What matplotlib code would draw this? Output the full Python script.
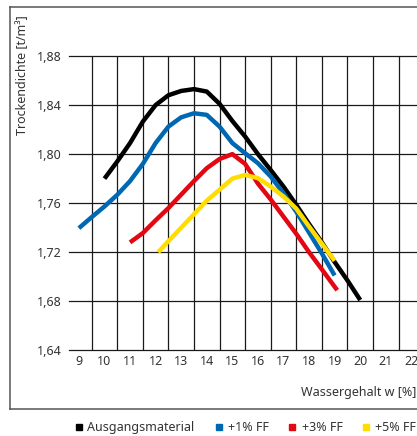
import matplotlib
matplotlib.use("Agg")
import matplotlib.pyplot as plt
from matplotlib.lines import Line2D
from matplotlib.patches import Rectangle

plt.rcParams['font.family'] = ['Noto Sans', 'DejaVu Sans']

# ---- data ----
series_names = ["Ausgangsmaterial", "+1% FF", "+3% FF", "+5% FF"]
series_colors = ["#000000", "#0068b3", "#e30613", "#ffdd00"]

x_black = [10.0, 10.5, 11.0, 11.5, 12.0, 12.5, 13.0, 13.5, 14.0, 14.5, 15.0, 15.5,
           16.0, 16.5, 17.0, 17.5, 18.0, 18.5, 19.0, 19.5, 20.0]
y_black = [1.780, 1.794, 1.809, 1.8265, 1.840, 1.848, 1.8515, 1.853, 1.851, 1.841, 1.827, 1.8143,
           1.800, 1.787, 1.7735, 1.7586, 1.743, 1.728, 1.712, 1.697, 1.681]

x_blue = [9.0, 9.5, 10.0, 10.5, 11.0, 11.5, 12.0, 12.5, 13.0, 13.5, 14.0, 14.5, 15.0,
          15.5, 16.0, 16.5, 17.0, 17.5, 18.0, 18.5, 19.0]
y_blue = [1.7396, 1.7486, 1.7573, 1.7668, 1.778, 1.792, 1.809, 1.8224, 1.830, 1.8333, 1.832,
          1.8224, 1.809, 1.8007, 1.7926, 1.7817, 1.768, 1.753, 1.736, 1.719, 1.701]

x_red = [11.0, 11.5, 12.0, 12.5, 13.0, 13.5, 14.0, 14.5, 15.0, 15.5, 16.0, 16.5, 17.0,
         17.5, 18.0, 18.5, 19.1]
y_red = [1.728, 1.7356, 1.746, 1.756, 1.767, 1.778, 1.7885, 1.796, 1.800, 1.792, 1.776,
         1.763, 1.749, 1.735, 1.720, 1.706, 1.689]

x_yellow = [12.1, 12.5, 13.0, 13.5, 14.0, 14.5, 15.0, 15.5, 16.0, 16.5, 17.0, 17.5, 18.0,
            18.5, 19.0]
y_yellow = [1.720, 1.729, 1.740, 1.751, 1.762, 1.771, 1.780, 1.783, 1.7804, 1.7735, 1.7654,
            1.7555, 1.741, 1.727, 1.713]

x_ticks = list(range(9, 23))
x_tick_labels = [str(v) for v in x_ticks]
y_ticks = [1.64, 1.68, 1.72, 1.76, 1.80, 1.84, 1.88]
y_tick_labels = ["1,64", "1,68", "1,72", "1,76", "1,80", "1,84", "1,88"]
x_grid = [v + 0.5 for v in range(9, 22)]

# ---- figure ----
W, H = 417, 436
fig = plt.figure(figsize=(W / 100, H / 100), dpi=100)

ax_left, ax_right = 69, 417
ax_top, ax_bot = 56, 350.3
ax = fig.add_axes([ax_left / W, 1 - ax_bot / H, (ax_right - ax_left) / W, (ax_bot - ax_top) / H])
ax.set_xlim(8.613, 22.22)
ax.set_ylim(1.64, 1.88)
for s in ax.spines.values():
    s.set_visible(False)
ax.patch.set_alpha(0)

gc = "#1a1a1a"
for yv in y_ticks:
    ax.axhline(yv, color=gc, lw=0.9, clip_on=False, zorder=1)
ax.vlines(x_grid, 1.64, 1.88, color=gc, lw=0.9, zorder=1)

ax.set_xticks(x_ticks)
ax.set_xticklabels(x_tick_labels)
ax.set_yticks(y_ticks)
ax.set_yticklabels(y_tick_labels)
ax.tick_params(axis='both', length=0, labelsize=9, labelcolor="#333333")
ax.tick_params(axis='y', pad=5)
ax.tick_params(axis='x', pad=3.5)

data = [(x_black, y_black), (x_blue, y_blue), (x_red, y_red), (x_yellow, y_yellow)]
for (xs, ys), c in zip(data, series_colors):
    ax.plot(xs, ys, color=c, lw=3.2, solid_joinstyle='round', solid_capstyle='butt', zorder=3)

# axis titles
fig.text(22.5 / W, 1 - 15 / H, "Trockendichte [t/m³]", rotation=90, ha='center', va='top',
         fontsize=9, color="#333333")
fig.text(416 / W, 1 - 392 / H, "Wassergehalt w [%]", ha='right', va='center',
         fontsize=9, color="#333333")

# outer frame
fc = "#555555"
fig.add_artist(Line2D([9.5 / W, 9.5 / W], [1 - 6.7 / H, 1 - 408.7 / H], color=fc, lw=1.1))
fig.add_artist(Line2D([9.5 / W, 1.0], [1 - 6.7 / H, 1 - 6.7 / H], color=fc, lw=1.1))
fig.add_artist(Line2D([9.5 / W, 1.0], [1 - 408.7 / H, 1 - 408.7 / H], color=fc, lw=1.1))

# legend
sq_x = [75.5, 216, 289, 363.3]
tx_x = [87, 228.3, 301.7, 375]
ly = 427
for name, c, sx, tx in zip(series_names, series_colors, sq_x, tx_x):
    fig.add_artist(Rectangle((sx / W, 1 - (ly + 3) / H), 6 / W, 6 / H, color=c,
                             transform=fig.transFigure))
    fig.text(tx / W, 1 - ly / H, name, ha='left', va='center', fontsize=9, color="#333333")

fig.savefig("out.png", dpi=100)
